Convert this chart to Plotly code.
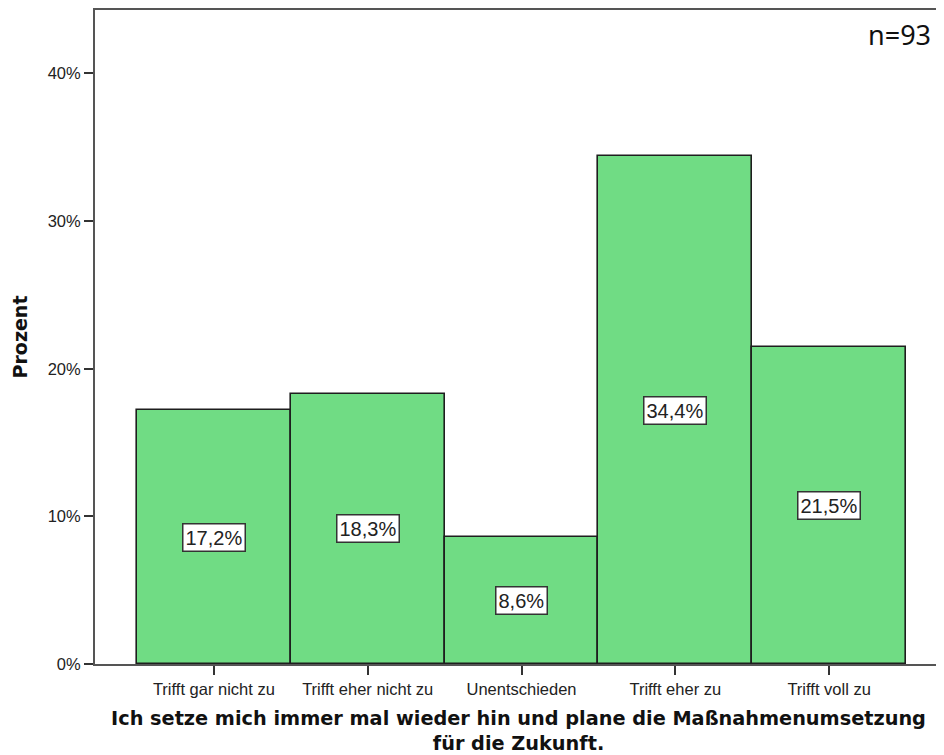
import plotly.graph_objects as go

categories = ["Trifft gar nicht zu", "Trifft eher nicht zu", "Unentschieden", "Trifft eher zu", "Trifft voll zu"]
percent = [17.2, 18.3, 8.6, 34.4, 21.5]
labels = ["17,2%", "18,3%", "8,6%", "34,4%", "21,5%"]
y_ticks = [0, 10, 20, 30, 40]
y_tick_text = ["0%", "10%", "20%", "30%", "40%"]

xs = list(range(len(categories)))

fig = go.Figure()
fig.add_trace(go.Bar(
    x=xs, y=percent, width=1.0,
    marker=dict(color="#70dc84", line=dict(color="#1e1e1e", width=1.6)),
    hoverinfo="skip",
))

for xi, v, t in zip(xs, percent, labels):
    fig.add_annotation(
        x=xi, y=v / 2, text=t, showarrow=False,
        font=dict(family="Liberation Sans, Arial", size=20, color="#222"),
        bgcolor="white", bordercolor="#333", borderwidth=1.5, borderpad=2,
    )

fig.add_annotation(
    x=0.9895, y=1 - (33 - 8) / (747 - 0 - 92), xref="paper", yref="paper",
    xanchor="right", yanchor="middle",
    text="n=93", showarrow=False,
    font=dict(family="Noto Sans, Open Sans", size=27, color="#111"),
)

fig.update_layout(
    width=936, height=747,
    margin=dict(l=87, r=0, t=0, b=91),
    paper_bgcolor="white", plot_bgcolor="white",
    bargap=0, showlegend=False,
    xaxis=dict(
        range=[-0.773, 4.734],
        tickmode="array", tickvals=xs, ticktext=categories,
        ticks="outside", ticklen=9, tickcolor="#333", tickwidth=1.5,
        showline=True, linecolor="#555", linewidth=2, mirror=True,
        showgrid=False, zeroline=False,
        tickfont=dict(family="Liberation Sans, Arial", size=16.5, color="#222"),
        title=dict(
            text="Ich setze mich immer mal wieder hin und plane die Maßnahmenumsetzung<br>für die Zukunft.",
            font=dict(family="DejaVu Sans", size=19.3, color="#111", weight="bold"),
            standoff=17,
        ),
    ),
    yaxis=dict(
        range=[0, 44.3],
        tickmode="array", tickvals=y_ticks, ticktext=y_tick_text,
        ticks="outside", ticklen=9, tickcolor="#333", tickwidth=1.5,
        showline=True, linecolor="#555", linewidth=2, mirror=True,
        showgrid=False, zeroline=False,
        tickfont=dict(family="Liberation Sans, Arial", size=16.5, color="#222"),
        title=dict(
            text="Prozent",
            font=dict(family="DejaVu Sans", size=19, color="#111", weight="bold"),
            standoff=15,
        ),
    ),
)

fig.write_html("out.html")
